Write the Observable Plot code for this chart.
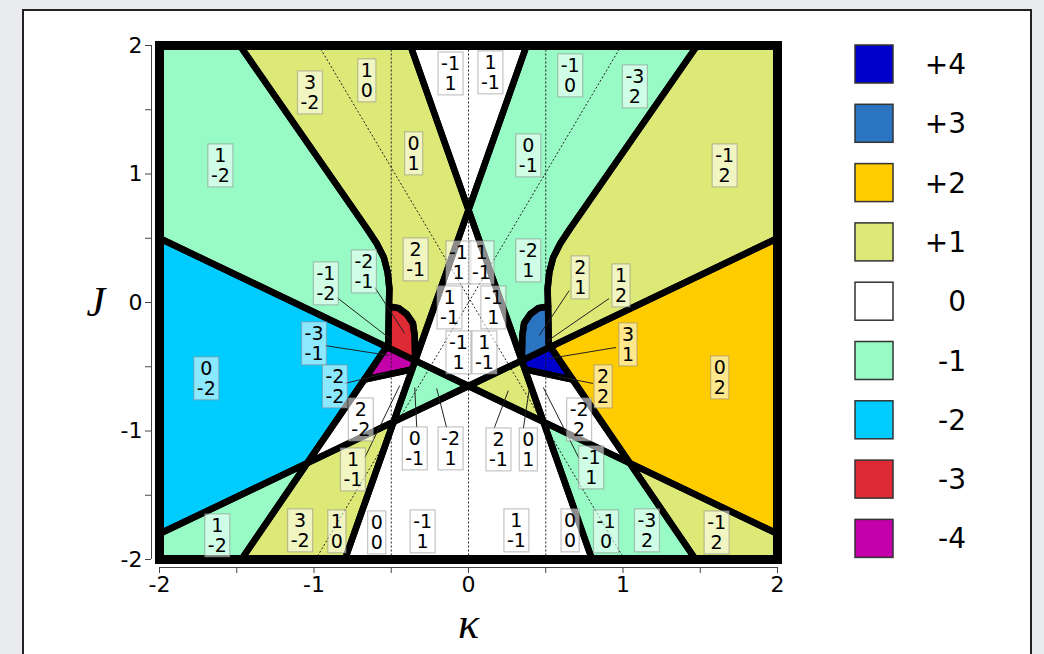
<!DOCTYPE html>
<html><head><meta charset="utf-8">
<script src="https://cdn.jsdelivr.net/npm/d3@7"></script>
<script src="https://cdn.jsdelivr.net/npm/@observablehq/plot@0.6"></script>
<style>
html,body{margin:0;padding:0;background:#e9ebef;width:1044px;height:654px;overflow:hidden}
#panel{position:absolute;left:22px;top:9px;width:1010px;height:670px;background:#fff;border:2px solid #222;box-sizing:border-box}
#chart{position:absolute;left:0;top:0}
</style></head><body>
<div id="panel"></div><div id="chart"></div>
<script>
// ---- colour index legend ----
const colorValues = [4, 3, 2, 1, 0, -1, -2, -3, -4];
const colorRange = ["#0000cc", "#2b74c1", "#ffcc00", "#dde977", "#ffffff", "#98fac5", "#00ccff", "#dd2a35", "#c300aa"];
const legendLabels = ["+4", "+3", "+2", "+1", "0", "-1", "-2", "-3", "-4"];

// ---- axes ----
const xTicks = [-2, -1.5, -1, -0.5, 0, 0.5, 1, 1.5, 2];
const yTicks = [-2, -1.5, -1, -0.5, 0, 0.5, 1, 1.5, 2];

// ---- phase regions (kappa, J) ----
const mintTopLeft = [[-2,2],[-1.48,2],[-0.658,0.576],[-0.594,0.459],[-0.548,0.350],[-0.523,0.233],[-0.512,0.109],[-0.515,-0.03],[-0.52,-0.351],[-2,0.5]];
const yellowTopLeft = [[-1.48,2],[-0.376,2],[0,0.72],[-0.345,-0.452],[-0.348,-0.26],[-0.36,-0.16],[-0.40,-0.09],[-0.45,-0.045],[-0.515,-0.03],[-0.512,0.109],[-0.523,0.233],[-0.548,0.350],[-0.594,0.459],[-0.658,0.576]];
const redLeft = [[-0.515,-0.03],[-0.45,-0.045],[-0.40,-0.09],[-0.36,-0.16],[-0.348,-0.26],[-0.345,-0.452],[-0.52,-0.351]];
const cyanLeft = [[-2,0.5],[-0.53,-0.345],[-1.044,-1.25],[-2,-1.8]];
const magentaLeft = [[-0.53,-0.345],[-0.345,-0.452],[-0.365,-0.52],[-0.674,-0.60]];
const whiteQuadLeft = [[-0.674,-0.60],[-0.365,-0.52],[-0.485,-0.929],[-1.044,-1.25]];
const mintTriangle = [[-0.345,-0.452],[0,-0.65],[-0.485,-0.929]];
const mintBottomLeft = [[-2,-1.8],[-1.044,-1.25],[-1.47,-2],[-2,-2]];
const yellowBottomLeft = [[-1.044,-1.25],[-0.485,-0.929],[-0.8,-2],[-1.47,-2]];
const whiteTop = [[-0.376,2],[0.376,2],[0,0.72]];
const whiteDiamond = [[0,0.72],[-0.345,-0.452],[0,-0.65],[0.345,-0.452]];
const whiteBottom = [[-0.485,-0.929],[0,-0.65],[0.485,-0.929],[0.8,-2],[-0.8,-2]];
const yellowTopRight = [[2,2],[1.48,2],[0.658,0.576],[0.594,0.459],[0.548,0.350],[0.523,0.233],[0.512,0.109],[0.515,-0.03],[0.52,-0.351],[2,0.5]];
const mintTopRight = [[1.48,2],[0.376,2],[0,0.72],[0.345,-0.452],[0.348,-0.26],[0.36,-0.16],[0.40,-0.09],[0.45,-0.045],[0.515,-0.03],[0.512,0.109],[0.523,0.233],[0.548,0.350],[0.594,0.459],[0.658,0.576]];
const blueRight = [[0.515,-0.03],[0.45,-0.045],[0.40,-0.09],[0.36,-0.16],[0.348,-0.26],[0.345,-0.452],[0.52,-0.351]];
const orangeRight = [[2,0.5],[0.53,-0.345],[1.044,-1.25],[2,-1.8]];
const darkBlueRight = [[0.53,-0.345],[0.345,-0.452],[0.365,-0.52],[0.674,-0.60]];
const whiteQuadRight = [[0.674,-0.60],[0.365,-0.52],[0.485,-0.929],[1.044,-1.25]];
const yellowTriangle = [[0.345,-0.452],[0,-0.65],[0.485,-0.929]];
const yellowBottomRight = [[2,-1.8],[1.044,-1.25],[1.47,-2],[2,-2]];
const mintBottomRight = [[1.044,-1.25],[0.485,-0.929],[0.8,-2],[1.47,-2]];

const regions = [
  ["mintTopLeft", -1, mintTopLeft], ["yellowTopLeft", 1, yellowTopLeft], ["redLeft", -3, redLeft],
  ["cyanLeft", -2, cyanLeft], ["magentaLeft", -4, magentaLeft], ["whiteQuadLeft", 0, whiteQuadLeft],
  ["mintTriangle", -1, mintTriangle], ["mintBottomLeft", -1, mintBottomLeft], ["yellowBottomLeft", 1, yellowBottomLeft],
  ["whiteTop", 0, whiteTop], ["whiteDiamond", 0, whiteDiamond], ["whiteBottom", 0, whiteBottom],
  ["yellowTopRight", 1, yellowTopRight], ["mintTopRight", -1, mintTopRight], ["blueRight", 3, blueRight],
  ["orangeRight", 2, orangeRight], ["darkBlueRight", 4, darkBlueRight], ["whiteQuadRight", 0, whiteQuadRight],
  ["yellowTriangle", 1, yellowTriangle], ["yellowBottomRight", 1, yellowBottomRight], ["mintBottomRight", -1, mintBottomRight]
];

// ---- dotted guide lines [k1, J1, k2, J2] ----
const dottedLines = [[-0.5,-2,-0.5,2],[0,-2,0,2],[0.5,-2,0.5,2],[-0.97,2,1.01,-2],[-0.99,-2,0.99,2]];

// ---- labels [kappa, J, text] ----
const pairLabels = [
  [-1.026,1.634,"3\n-2"],[-0.658,1.728,"1\n0"],[-0.355,1.160,"0\n1"],[-1.606,1.066,"1\n-2"],
  [-0.342,0.335,"2\n-1"],[-0.677,0.241,"-2\n-1"],[-0.923,0.148,"-1\n-2"],[-1.0,-0.319,"-3\n-1"],
  [-1.697,-0.591,"0\n-2"],[-0.865,-0.654,"-2\n-2"],[-0.697,-0.911,"2\n-2"],[-0.748,-1.300,"1\n-1"],
  [-0.348,-1.136,"0\n-1"],[-0.116,-1.136,"-2\n1"],[-1.626,-1.813,"1\n-2"],[-1.090,-1.774,"3\n-2"],
  [-0.852,-1.782,"1\n0"],[-0.594,-1.790,"0\n0"],[-0.297,-1.782,"-1\n1"],
  [-0.116,1.782,"-1\n1"],[0.142,1.790,"1\n-1"],
  [-0.065,0.311,"-1\n1"],[0.084,0.311,"1\n-1"],[-0.123,-0.039,"1\n-1"],[0.161,-0.039,"-1\n1"],
  [-0.065,-0.389,"-1\n1"],[0.103,-0.389,"1\n-1"],
  [0.658,1.767,"-1\n0"],[1.077,1.681,"-3\n2"],[0.387,1.144,"0\n-1"],[1.658,1.066,"-1\n2"],
  [0.387,0.327,"-2\n1"],[0.723,0.195,"2\n1"],[0.987,0.132,"1\n2"],[1.032,-0.327,"3\n1"],
  [0.871,-0.654,"2\n2"],[1.626,-0.584,"0\n2"],[0.716,-0.911,"-2\n2"],[0.794,-1.284,"-1\n1"],
  [0.194,-1.144,"2\n-1"],[0.387,-1.144,"0\n1"],[0.310,-1.774,"1\n-1"],[0.658,-1.774,"0\n0"],
  [0.890,-1.782,"-1\n0"],[1.155,-1.774,"-3\n2"],[1.606,-1.790,"-1\n2"]
];

// ---- leader lines [k1, J1, k2, J2] ----
const leaderLines = [
  [-0.606,0.117,-0.413,-0.241],[-0.852,0.039,-0.51,-0.28],[-0.929,-0.335,-0.516,-0.412],
  [-0.80,-0.63,-0.542,-0.553],[-0.671,-1.206,-0.445,-0.646],[-0.335,-0.973,-0.348,-0.661],
  [-0.142,-0.973,-0.206,-0.669],[0.652,0.093,0.458,-0.257],[0.91,0.031,0.51,-0.30],
  [0.955,-0.350,0.523,-0.436],[0.806,-0.630,0.581,-0.576],[0.716,-1.214,0.484,-0.661],
  [0.168,-0.973,0.258,-0.685],[0.355,-0.981,0.394,-0.669]
];

const rows = regions.flatMap(([name, idx, pts]) => [...pts, pts[0]].map(([k, J]) => ({name, idx, k, J})));
const tickLabel = d => Number.isInteger(d) ? String(d) : "";

const svg = Plot.plot({
  width: 1044, height: 654,
  marginLeft: 159, marginRight: 267, marginTop: 45, marginBottom: 95,
  style: {background: "transparent", fontFamily: "DejaVu Sans", color: "black"},
  x: {domain: [-2, 2], label: null},
  y: {domain: [-2, 2], label: null},
  color: {type: "ordinal", domain: colorValues, range: colorRange},
  marks: [
    Plot.line(rows, {x: "k", y: "J", z: "name", fill: "idx", stroke: null}),
    Plot.link(dottedLines, {x1: d => d[0], y1: d => d[1], x2: d => d[2], y2: d => d[3], stroke: "#222", strokeWidth: 1, strokeDasharray: "2,2"}),
    Plot.line(rows, {x: "k", y: "J", z: "name", stroke: "black", strokeWidth: 6.5, strokeLinejoin: "round", fill: "none"}),
    Plot.frame({stroke: "black", strokeWidth: 9}),
    Plot.link(leaderLines, {x1: d => d[0], y1: d => d[1], x2: d => d[2], y2: d => d[3], stroke: "#222", strokeWidth: 1}),
    Plot.text(pairLabels, {x: d => d[0], y: d => d[1], text: d => d[2], fontSize: 19, lineHeight: 1.05, fill: "black", textAnchor: "middle", ariaDescription: "pairs"}),
    Plot.ruleY([-2], {dy: 8, stroke: "#444", strokeWidth: 1}),
    Plot.ruleX([-2], {dx: -8, stroke: "#444", strokeWidth: 1}),
    Plot.axisX(xTicks, {tickFormat: tickLabel, tickSize: 6, dy: 8, tickPadding: 3, fontSize: 22, stroke: "#444"}),
    Plot.axisY(yTicks, {tickFormat: tickLabel, tickSize: 6, dx: -8, tickPadding: 3, fontSize: 22, stroke: "#444"}),
    Plot.text(["J"], {frameAnchor: "left", dx: -73, text: d => d, fontSize: 42, fontStyle: "italic", fontFamily: "Liberation Serif"}),
    Plot.text(["κ"], {frameAnchor: "bottom", dy: 78, text: d => d, fontSize: 44, fontStyle: "italic", fontFamily: "Liberation Serif"})
  ]
});
document.getElementById("chart").appendChild(svg);

// label boxes
const NS = "http://www.w3.org/2000/svg";
d3.select(svg).selectAll('g[aria-description="pairs"] text').each(function () {
  const b = this.getBBox();
  const r = document.createElementNS(NS, "rect");
  r.setAttribute("x", b.x - 3); r.setAttribute("y", b.y);
  r.setAttribute("width", b.width + 6); r.setAttribute("height", b.height + 1);
  r.setAttribute("fill", "white"); r.setAttribute("fill-opacity", 0.55);
  r.setAttribute("stroke", "#888"); r.setAttribute("stroke-opacity", 0.5); r.setAttribute("stroke-width", 1.2);
  if (this.getAttribute("transform")) r.setAttribute("transform", this.getAttribute("transform"));
  this.parentNode.insertBefore(r, this);
});

// legend
const lg = d3.select(svg).append("g");
legendLabels.forEach((lab, i) => {
  const cy = 64 + i * 59.3;
  lg.append("rect").attr("x", 855).attr("y", cy - 19).attr("width", 38).attr("height", 38)
    .attr("fill", colorRange[i]).attr("stroke", "#333").attr("stroke-width", 1.5);
  lg.append("text").attr("x", 966).attr("y", cy).attr("dy", "0.36em").attr("text-anchor", "end")
    .attr("font-size", 28).attr("font-family", "DejaVu Sans").attr("fill", "black").text(lab);
});
</script></body></html>
